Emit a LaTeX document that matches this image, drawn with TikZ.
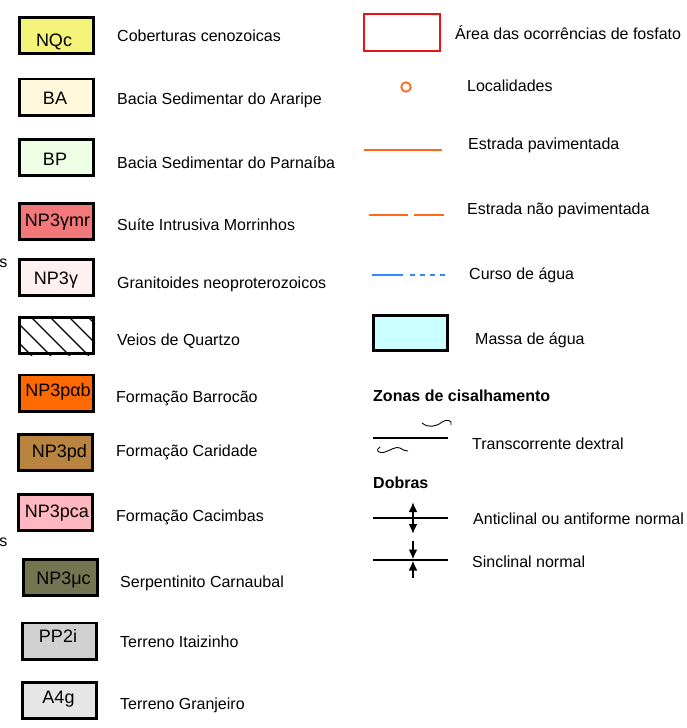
\documentclass[tikz,border=0pt]{standalone}
\usepackage{fontspec}
\setmainfont{Liberation Sans}
\usetikzlibrary{arrows.meta}
\definecolor{cNQc}{HTML}{F4F47A}
\definecolor{cBA}{HTML}{FFF8DC}
\definecolor{cBP}{HTML}{EEFFE6}
\definecolor{cGmr}{HTML}{F2787A}
\definecolor{cG}{HTML}{FFF0F2}
\definecolor{cPab}{HTML}{FF6A00}
\definecolor{cPd}{HTML}{B8843F}
\definecolor{cPca}{HTML}{FFB8C2}
\definecolor{cMuc}{HTML}{72754F}
\definecolor{cPP}{HTML}{D0D0D0}
\definecolor{cA4}{HTML}{E6E6E6}
\definecolor{cWater}{HTML}{CCFFFF}
\definecolor{cRoad}{HTML}{FF6A1A}
\definecolor{cRiver}{HTML}{3388FF}
\definecolor{cArea}{HTML}{EE1111}
\tikzset{
  legbox/.style={draw=black, line width=2.6pt, minimum width=74.4pt, minimum height=36.4pt, inner sep=0pt},
  boxlbl/.style={font=\fontsize{18}{20}\selectfont, anchor=base, inner sep=0pt},
  lbl/.style={font=\fontsize{16}{19}\selectfont, anchor=base west, inner sep=0pt},
  hdr/.style={font=\fontsize{16}{19}\selectfont\bfseries, anchor=base west, inner sep=0pt},
  road/.style={draw=cRoad, line width=2.5pt},
  fold/.style={draw=black, line width=2.8pt},
  foldarrow/.style={draw=black, line width=2.4pt, -{Latex[length=10pt,width=9pt]}},
}
\begin{document}
\begin{tikzpicture}[x=1pt,y=-1pt]
\useasboundingbox (0,0) rectangle (687,728);
% left column boxes
\node[legbox, fill=cNQc] (bNQc) at (56.5,35.5) {};
\node[legbox, fill=cBA] (bBA) at (56.5,97) {};
\node[legbox, fill=cBP] (bBP) at (56.5,157.5) {};
\node[legbox, fill=cGmr] (bGmr) at (56.5,221.5) {};
\node[legbox, fill=cG] (bG) at (56.5,277.5) {};
\node[legbox, fill=white] (bQz) at (56.5,335.5) {};
\begin{scope}
\clip (bQz.south west) rectangle (bQz.north east);
\foreach \x in {-8,11,30,49,68,87} {
  \draw[line width=1.1pt] (\x,316) -- (\x+40,356);
}
\end{scope}
\node[legbox, fill=none] (bQz2) at (56.5,335.5) {};
\node[legbox, fill=cPab] (bPab) at (56.5,393) {};
\node[legbox, fill=cPd] (bPd) at (55.5,452.5) {};
\node[legbox, fill=cPca] (bPca) at (55.5,512.5) {};
\node[legbox, fill=cMuc] (bMuc) at (60.5,577.5) {};
\node[legbox, fill=cPP] (bPP) at (59.5,641) {};
\node[legbox, fill=cA4] (bA4) at (59.5,700.5) {};
% box labels
\node[boxlbl] (tNQc) at (54,46) {NQc};
\node[boxlbl] (tBA) at (55,104) {BA};
\node[boxlbl] (tBP) at (55,165) {BP};
\node[boxlbl] (tGmr) at (57.5,226.5) {NP3γmr};
\node[boxlbl] (tG) at (56,284) {NP3γ};
\node[boxlbl] (tPab) at (58,396) {NP3pαb};
\node[boxlbl] (tPd) at (59.5,457) {NP3pd};
\node[boxlbl] (tPca) at (57,517) {NP3pca};
\node[boxlbl] (tMuc) at (63.5,584) {NP3μc};
\node[boxlbl] (tPP) at (58,642) {PP2i};
\node[boxlbl] (tA4) at (58.5,703) {A4g};
% left labels
\node[lbl] (lNQc) at (117,41.5) {Coberturas cenozoicas};
\node[lbl] (lBA) at (117,104.5) {Bacia Sedimentar do Araripe};
\node[lbl] (lBP) at (117,168.5) {Bacia Sedimentar do Parnaíba};
\node[lbl] (lGmr) at (117,230.5) {Suíte Intrusiva Morrinhos};
\node[lbl] (lG) at (117,288.5) {Granitoides neoproterozoicos};
\node[lbl] (lQz) at (117,345.5) {Veios de Quartzo};
\node[lbl] (lPab) at (116,402.5) {Formação Barrocão};
\node[lbl] (lPd) at (116,456.5) {Formação Caridade};
\node[lbl] (lPca) at (116,521.5) {Formação Cacimbas};
\node[lbl] (lMuc) at (120,587.5) {Serpentinito Carnaubal};
\node[lbl] (lPP) at (120,647.5) {Terreno Itaizinho};
\node[lbl] (lA4) at (120,709.5) {Terreno Granjeiro};
% cut-off letters at left edge
\node[font=\fontsize{16}{19}\selectfont, anchor=base east, inner sep=0pt] (cut1) at (7.5,267) {s};
\node[font=\fontsize{16}{19}\selectfont, anchor=base east, inner sep=0pt] (cut2) at (7.5,546) {s};
% right column
\node[draw=cArea, line width=2.2pt, minimum width=75.8pt, minimum height=36.8pt, inner sep=0pt] (area) at (402,32.5) {};
\node[lbl] (lArea) at (455,39.5) {Área das ocorrências de fosfato};
\node[draw=cRoad, line width=1.8pt, circle, minimum size=9.5pt, inner sep=0pt] (loc) at (406,87) {};
\node[lbl] (lLoc) at (467,91) {Localidades};
\coordinate (r1a) at (364,150);
\coordinate (r1b) at (442,150);
\draw[road] (r1a) -- (r1b);
\node[lbl] (lR1) at (468,149) {Estrada pavimentada};
\coordinate (r2a) at (369,215);
\coordinate (r2b) at (408,215);
\coordinate (r2c) at (414,215);
\coordinate (r2d) at (444,215);
\draw[road] (r2a) -- (r2b);
\draw[road] (r2c) -- (r2d);
\node[lbl] (lR2) at (467,214) {Estrada não pavimentada};
\coordinate (wa) at (372,275);
\coordinate (wb) at (403,275);
\coordinate (wc) at (410,275);
\coordinate (wd) at (448,275);
\draw[cRiver, line width=1.1pt] (wa) -- (wb);
\draw[cRiver, line width=1.1pt, dash pattern=on 5pt off 5pt] (wc) -- (wd);
\node[lbl] (lW) at (469,279) {Curso de água};
\node[legbox, fill=cWater, minimum width=74.4pt, minimum height=35.4pt] (water) at (410.5,333) {};
\node[lbl] (lWater) at (475,344) {Massa de água};
\node[hdr] (hZ) at (373,401) {Zonas de cisalhamento};
\coordinate (sa) at (373,438);
\coordinate (sb) at (448,438);
\draw[line width=1.3pt] (sa) -- (sb);
\draw[line width=0.9pt] (422,423) .. controls (428,428) and (436,427) .. (442,422) .. controls (446,419) and (453,420) .. (451,425);
\draw[line width=0.9pt] (380,447) .. controls (375,450) and (378,454) .. (385,452) .. controls (391,450) and (396,446) .. (400,448) .. controls (403,450) and (405,451) .. (408,451);
\node[lbl] (lS) at (472,449) {Transcorrente dextral};
\node[hdr] (hD) at (373,488) {Dobras};
\coordinate (aa) at (373,518);
\coordinate (ab) at (448,518);
\coordinate (ac) at (413,518);
\coordinate (at1) at (413,502);
\coordinate (ab1) at (413,534);
\draw[fold] (aa) -- (ab);
\draw[foldarrow] (ac) -- (at1);
\draw[foldarrow] (ac) -- (ab1);
\node[lbl] (lA) at (473,524) {Anticlinal ou antiforme normal};
\coordinate (ya) at (373,560);
\coordinate (yb) at (448,560);
\coordinate (yt) at (413,541);
\coordinate (ybt) at (413,578);
\coordinate (yc1) at (413,559.5);
\coordinate (yc2) at (413,560.5);
\draw[line width=2.2pt] (ya) -- (yb);
\draw[foldarrow] (yt) -- (yc1);
\draw[foldarrow] (ybt) -- (yc2);
\node[lbl] (lY) at (472,567) {Sinclinal normal};
\end{tikzpicture}
\end{document}
